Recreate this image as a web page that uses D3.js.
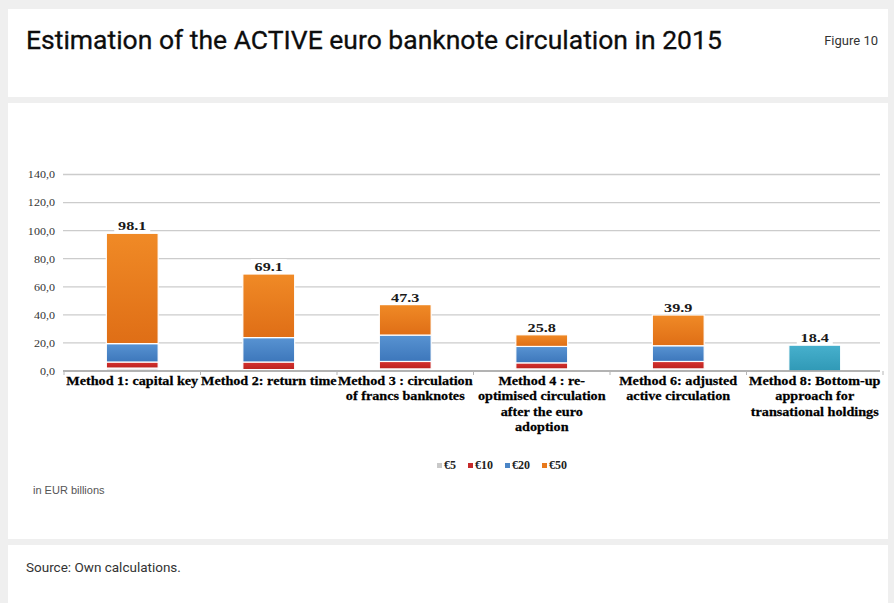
<!DOCTYPE html>
<html>
<head>
<meta charset="utf-8">
<script src="https://cdn.jsdelivr.net/npm/d3@7"></script>
<style>
  body { margin: 0; background: #efefef; }
  svg { display: block; }
</style>
</head>
<body>
<svg id="chart" width="894" height="603"></svg>
<script>
// Category labels, one entry per wrapped line
const categories = [
  ["Method 1: capital key"],
  ["Method 2: return time"],
  ["Method 3 : circulation", "of francs banknotes"],
  ["Method 4 : re-", "optimised circulation", "after the euro", "adoption"],
  ["Method 6: adjusted", "active circulation"],
  ["Method 8: Bottom-up", "approach for", "transational holdings"]
];

// Active circulation by denomination, EUR billions
const eur5  = [2.1, 1.0, 1.5, 1.5, 1.5, 0];
const eur10 = [4.3, 5.4, 5.3, 4.3, 5.3, 0];
const eur20 = [13.1, 17.4, 18.8, 11.7, 11.2, 0];
const eur50 = [78.6, 45.3, 21.7, 8.3, 21.9, 0];
// Method 8 is only available as a single total
const bottomUp = [0, 0, 0, 0, 0, 18.4];

const yTicks = [0, 20, 40, 60, 80, 100, 120, 140];
const legendLabels = ["€5", "€10", "€20", "€50"];

const series = [
  { key: "e5",  values: eur5,  label: legendLabels[0], top: "#f1f1f1", bottom: "#e4e4e4", legend: "#c9c9c9" },
  { key: "e10", values: eur10, label: legendLabels[1], top: "#d5322f", bottom: "#bb2320", legend: "#c62a2a" },
  { key: "e20", values: eur20, label: legendLabels[2], top: "#5893d2", bottom: "#3d77bb", legend: "#4a85c6" },
  { key: "e50", values: eur50, label: legendLabels[3], top: "#f08a26", bottom: "#df6e16", legend: "#e8791b" },
  { key: "bu",  values: bottomUp, label: null,         top: "#47b0cd", bottom: "#3099b6", legend: null }
];

const table = categories.map((c, i) => {
  const row = { idx: i };
  series.forEach(s => row[s.key] = s.values[i]);
  return row;
});
const totals = table.map(r => d3.sum(series, s => r[s.key]));

const svg = d3.select("#chart");

// Page panels
svg.append("rect").attr("x", 0).attr("y", 0).attr("width", 894).attr("height", 603).attr("fill", "#efefef");
[[9, 88], [103, 436], [545, 70]].forEach(([y, h]) => {
  svg.append("rect").attr("x", 8).attr("y", y).attr("width", 880).attr("height", h).attr("fill", "#ffffff");
});

svg.append("text")
  .attr("x", 26).attr("y", 49)
  .attr("font-family", "Roboto, sans-serif").attr("font-size", 26.5).attr("font-weight", 400)
  .attr("fill", "#0d0d0d")
  .attr("stroke", "#0d0d0d").attr("stroke-width", 0.3)
  .text("Estimation of the ACTIVE euro banknote circulation in 2015");

svg.append("text")
  .attr("x", 878).attr("y", 45)
  .attr("text-anchor", "end")
  .attr("font-family", "Roboto, sans-serif").attr("font-size", 13)
  .attr("fill", "#333")
  .text("Figure 10");

svg.append("text")
  .attr("x", 26).attr("y", 572)
  .attr("font-family", "Roboto, sans-serif").attr("font-size", 13.5)
  .attr("fill", "#333")
  .text("Source: Own calculations.");

// Chart area
const plotLeft = 63, plotRight = 880;
const y = d3.scaleLinear().domain([0, 140]).range([371, 174.5]);
const x = d3.scaleBand()
  .domain(d3.range(categories.length))
  .range([64, 883])
  .paddingInner(0.62)
  .paddingOuter(0.31);

const defs = svg.append("defs");
series.forEach(s => {
  const g = defs.append("linearGradient").attr("id", "grad-" + s.key)
    .attr("x1", 0).attr("y1", 0).attr("x2", 0).attr("y2", 1);
  g.append("stop").attr("offset", "0%").attr("stop-color", s.top);
  g.append("stop").attr("offset", "100%").attr("stop-color", s.bottom);
});

const serif = "'Liberation Serif', 'Times New Roman', serif";

// Gridlines
const grid = svg.append("g").attr("class", "grid");
grid.selectAll("line").data(yTicks.filter(d => d > 0)).join("line")
  .attr("x1", plotLeft).attr("x2", plotRight)
  .attr("y1", d => y(d)).attr("y2", d => y(d))
  .attr("stroke", "#cccccc").attr("stroke-width", 1.3);

// Y axis labels
const yAxis = svg.append("g")
  .attr("transform", `translate(${plotLeft - 8},0)`)
  .call(d3.axisLeft(y).tickValues(yTicks).tickSize(0).tickPadding(0)
    .tickFormat(d => d.toFixed(1).replace(".", ",")));
yAxis.select(".domain").remove();
yAxis.selectAll("text")
  .attr("font-family", serif).attr("font-size", 10.5)
  .attr("fill", "#333")
  .attr("transform", "scale(1.15,1)");

// Stacked bars
const stack = d3.stack().keys(series.map(s => s.key));
const layers = stack(table);
svg.append("g").selectAll("g").data(layers).join("g")
  .attr("fill", d => `url(#grad-${d.key})`)
  .selectAll("rect")
  .data(d => d.filter(p => p[1] - p[0] > 0))
  .join("rect")
  .attr("x", d => x(d.data.idx))
  .attr("width", x.bandwidth())
  .attr("y", d => y(d[1]))
  .attr("height", d => y(d[0]) - y(d[1]))
  .attr("stroke", "#ffffff").attr("stroke-width", 1.2);

// Category axis line with boundary ticks
svg.append("line")
  .attr("x1", plotLeft).attr("x2", plotRight)
  .attr("y1", y(0)).attr("y2", y(0))
  .attr("stroke", "#9a9a9a").attr("stroke-width", 1.3);
const bounds = d3.range(categories.length + 1).map(i => x(0) + x.bandwidth() / 2 - x.step() / 2 + i * x.step());
svg.append("g").selectAll("line").data(bounds).join("line")
  .attr("x1", d => d).attr("x2", d => d)
  .attr("y1", y(0)).attr("y2", y(0) + 4)
  .attr("stroke", "#b5b5b5");

// Value labels on top of each bar
const vl = svg.append("g").selectAll("g").data(totals).join("g")
  .attr("transform", (d, i) => `translate(${x(i) + x.bandwidth() / 2},${y(d) - 3})`);
vl.append("rect")
  .attr("x", -18).attr("y", -12).attr("width", 36).attr("height", 14)
  .attr("fill", "#ffffff");
vl.append("text")
  .attr("text-anchor", "middle")
  .attr("font-family", serif).attr("font-weight", "bold").attr("font-size", 13.5)
  .attr("fill", "#1a1a1a")
  .attr("transform", "scale(1.2,1)")
  .text(d => d.toFixed(1));

// Category labels
const cl = svg.append("g").selectAll("text").data(categories).join("text")
  .attr("transform", (d, i) => `translate(${x(i) + x.bandwidth() / 2},385) scale(1.05,1)`)
  .attr("text-anchor", "middle")
  .attr("font-family", serif).attr("font-weight", "bold").attr("font-size", 13.5)
  .attr("fill", "#000")
  .attr("stroke", "#000").attr("stroke-width", 0.25);
cl.selectAll("tspan").data(d => d).join("tspan")
  .attr("x", 0).attr("dy", (d, i) => i === 0 ? 0 : 15.5)
  .text(d => d);

// Legend
const legendItems = series.filter(s => s.label);
const lg = svg.append("g").attr("transform", "translate(437,469)");
let lx = 0;
legendItems.forEach(s => {
  const g = lg.append("g").attr("transform", `translate(${lx},0)`);
  g.append("rect").attr("x", 0).attr("y", -6).attr("width", 5).attr("height", 5).attr("fill", s.legend);
  const t = g.append("text").attr("x", 7).attr("y", 0)
    .attr("font-family", serif).attr("font-weight", "bold").attr("font-size", 12).attr("fill", "#222")
    .text(s.label);
  lx += 7 + t.node().getComputedTextLength() + 12;
});

svg.append("text")
  .attr("x", 33).attr("y", 494)
  .attr("font-family", "'Liberation Sans', Arial, sans-serif").attr("font-size", 11)
  .attr("fill", "#555")
  .text("in EUR billions");
</script>
</body>
</html>
